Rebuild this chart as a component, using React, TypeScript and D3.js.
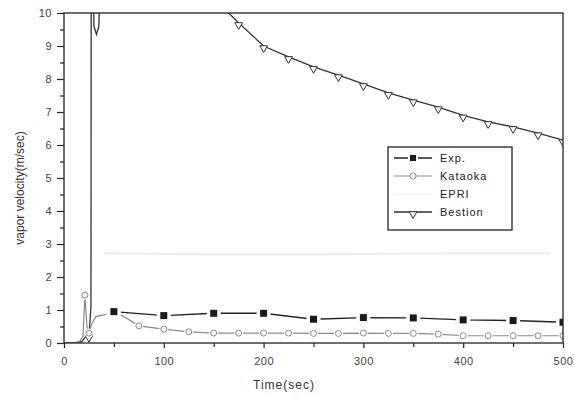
import React, { useEffect, useRef } from "react";
import * as d3 from "d3";

// values (time in sec, vapor velocity in m/sec)
const expTime = [50, 100, 150, 200, 250, 300, 350, 400, 450, 500];
const expVel = [0.95, 0.83, 0.9, 0.9, 0.72, 0.77, 0.76, 0.7, 0.68, 0.63];

const kataokaTime = [0, 10, 15, 19, 21, 23, 25, 28, 32, 40, 50, 60, 75, 100, 125, 150, 175, 200, 225, 250, 275, 300, 325, 350, 375, 400, 425, 450, 475, 500];
const kataokaVel = [0, 0, 0.02, 0.2, 1.45, 0.5, 0.3, 0.6, 0.8, 0.85, 0.95, 0.8, 0.52, 0.42, 0.34, 0.3, 0.3, 0.3, 0.3, 0.29, 0.29, 0.3, 0.29, 0.29, 0.27, 0.22, 0.22, 0.22, 0.22, 0.22];
const kataokaMarked = [21, 25, 75, 100, 125, 150, 175, 200, 225, 250, 275, 300, 325, 350, 375, 400, 425, 450, 475, 500];

const eprTime = [40, 100, 200, 300, 400, 487];
const eprVel = [2.72, 2.7, 2.68, 2.7, 2.72, 2.72];

const bestionTime = [0, 10, 18, 22, 25, 27, 27.3, 29, 30, 32.5, 35, 36, 100, 150, 165, 175, 200, 225, 250, 275, 300, 325, 350, 375, 400, 425, 450, 475, 500];
const bestionVel = [0, 0, 0.05, 0.2, 0.22, 1.1, 12, 12, 9.6, 9.35, 9.6, 12, 11.5, 10.5, 10.0, 9.7, 9.0, 8.67, 8.37, 8.12, 7.85, 7.58, 7.36, 7.15, 6.9, 6.7, 6.55, 6.36, 6.15];
const bestionMarked = [25, 175, 200, 225, 250, 275, 300, 325, 350, 375, 400, 425, 450, 475, 500];

const xTicks = [0, 100, 200, 300, 400, 500];
const yTicks = [0, 1, 2, 3, 4, 5, 6, 7, 8, 9, 10];
const legendNames = ["Exp.", "Kataoka", "EPRI", "Bestion"];

const W = 574, H = 396;
const left = 64, right = 563, top = 13, bottom = 343;
const font = "'Liberation Sans', Arial, sans-serif";

export default function App() {
  const ref = useRef<SVGSVGElement | null>(null);

  useEffect(() => {
    const svg = d3.select(ref.current);
    svg.selectAll("*").remove();

    const x = d3.scaleLinear().domain([0, 500]).range([left, right]);
    const y = d3.scaleLinear().domain([0, 10]).range([bottom, top]);

    svg.append("defs").append("clipPath").attr("id", "plotclip")
      .append("rect").attr("x", left).attr("y", top).attr("width", right - left).attr("height", bottom - top);

    const plot = svg.append("g").attr("clip-path", "url(#plotclip)");
    const line = d3.line<[number, number]>().x(d => x(d[0])).y(d => y(d[1]));
    const zip = (t: number[], v: number[]) => t.map((tt, i) => [tt, v[i]] as [number, number]);

    // EPRI: very faint line
    plot.append("path").attr("d", line(zip(eprTime, eprVel))).attr("fill", "none")
      .attr("stroke", "#f0f0f0").attr("stroke-width", 2.5);

    // Bestion
    const bes = zip(bestionTime, bestionVel);
    plot.append("path").attr("d", line(bes)).attr("fill", "none").attr("stroke", "#333").attr("stroke-width", 1.3);
    const tri = d3.symbol().type(d3.symbolTriangle).size(26);
    plot.selectAll(".bm").data(bes.filter(d => bestionMarked.includes(d[0]))).enter().append("path")
      .attr("d", tri).attr("transform", d => `translate(${x(d[0])},${y(d[1]) + 2}) rotate(180)`)
      .attr("fill", "white").attr("stroke", "#333").attr("stroke-width", 1);

    // Kataoka
    const kat = zip(kataokaTime, kataokaVel);
    plot.append("path").attr("d", line(kat)).attr("fill", "none").attr("stroke", "#8a8a8a").attr("stroke-width", 1.2);
    const km = kat.filter(d => kataokaMarked.includes(d[0]));
    plot.selectAll(".kh").data(km).enter().append("circle")
      .attr("cx", d => x(d[0])).attr("cy", d => y(d[1])).attr("r", 4.5).attr("fill", "white");
    plot.selectAll(".km").data(km).enter().append("circle")
      .attr("cx", d => x(d[0])).attr("cy", d => y(d[1])).attr("r", 3)
      .attr("fill", "white").attr("stroke", "#8a8a8a").attr("stroke-width", 1);

    // Exp
    const exp = zip(expTime, expVel);
    plot.append("path").attr("d", line(exp)).attr("fill", "none").attr("stroke", "#222").attr("stroke-width", 1.4);
    plot.selectAll(".eh").data(exp).enter().append("rect")
      .attr("x", d => x(d[0]) - 7).attr("y", d => y(d[1]) - 4).attr("width", 14).attr("height", 8).attr("fill", "white");
    plot.selectAll(".em").data(exp).enter().append("rect")
      .attr("x", d => x(d[0]) - 3.5).attr("y", d => y(d[1]) - 3.5).attr("width", 7).attr("height", 7).attr("fill", "#1a1a1a");

    // frame
    svg.append("rect").attr("x", left).attr("y", top).attr("width", right - left).attr("height", bottom - top)
      .attr("fill", "none").attr("stroke", "#222").attr("stroke-width", 1.3);

    // axes
    const xAxis = d3.axisBottom(x).tickValues(xTicks).tickSize(5).tickPadding(7).tickFormat(d3.format("d"));
    const gx = svg.append("g").attr("transform", `translate(0,${bottom})`).call(xAxis);
    const xMinor = d3.axisBottom(x).tickValues([50, 150, 250, 350, 450]).tickSize(4).tickFormat(() => "");
    svg.append("g").attr("transform", `translate(0,${bottom})`).call(xMinor);

    const yAxis = d3.axisLeft(y).tickValues(yTicks).tickSize(7).tickPadding(5).tickFormat(d3.format("d"));
    svg.append("g").attr("transform", `translate(${left},0)`).call(yAxis);
    const yMinor = d3.axisLeft(y).tickValues(d3.range(0.5, 10, 1)).tickSize(4).tickFormat(() => "");
    svg.append("g").attr("transform", `translate(${left},0)`).call(yMinor);

    svg.selectAll(".domain").remove();
    svg.selectAll(".tick line").attr("stroke", "#222").attr("stroke-width", 1.2);
    svg.selectAll(".tick text").attr("font-family", font).attr("font-size", 11).attr("fill", "#444")
      .attr("letter-spacing", 0.5);
    gx.selectAll(".tick text").attr("dy", "0.9em");

    // axis titles
    svg.append("text").attr("x", 284).attr("y", 389).attr("text-anchor", "middle")
      .attr("font-family", font).attr("font-size", 12).attr("letter-spacing", 1).attr("fill", "#333").text("Time(sec)");
    svg.append("text").attr("transform", "translate(24,188) rotate(-90)").attr("text-anchor", "middle")
      .attr("font-family", font).attr("font-size", 12).attr("fill", "#333").text("vapor velocity(m/sec)");

    // legend
    const lg = svg.append("g");
    lg.append("rect").attr("x", 388).attr("y", 147).attr("width", 124).attr("height", 83)
      .attr("fill", "white").attr("stroke", "#222").attr("stroke-width", 1.3);
    const rowY = [158, 176, 194, 212];
    legendNames.forEach((name, i) => {
      const cy = rowY[i];
      if (i === 0) {
        lg.append("line").attr("x1", 394).attr("x2", 432).attr("y1", cy).attr("y2", cy).attr("stroke", "#222").attr("stroke-width", 1.4);
        lg.append("rect").attr("x", 408).attr("y", cy - 4).attr("width", 10).attr("height", 8).attr("fill", "white");
        lg.append("rect").attr("x", 410).attr("y", cy - 3).attr("width", 6).attr("height", 6).attr("fill", "#1a1a1a");
      } else if (i === 1) {
        lg.append("line").attr("x1", 394).attr("x2", 432).attr("y1", cy).attr("y2", cy).attr("stroke", "#8a8a8a").attr("stroke-width", 1.2);
        lg.append("circle").attr("cx", 413).attr("cy", cy).attr("r", 3).attr("fill", "white").attr("stroke", "#8a8a8a");
      } else if (i === 2) {
        lg.append("line").attr("x1", 394).attr("x2", 432).attr("y1", cy).attr("y2", cy).attr("stroke", "#f4f4f4").attr("stroke-width", 1.5);
      } else {
        lg.append("line").attr("x1", 394).attr("x2", 432).attr("y1", cy).attr("y2", cy).attr("stroke", "#333").attr("stroke-width", 1.3);
        lg.append("path").attr("d", tri).attr("transform", `translate(413,${cy + 2}) rotate(180)`)
          .attr("fill", "white").attr("stroke", "#333");
      }
      lg.append("text").attr("x", 440).attr("y", cy + 4).attr("font-family", font).attr("font-size", 11)
        .attr("letter-spacing", 1).attr("fill", "#222").text(name);
    });
  }, []);

  return (
    <svg ref={ref} width={W} height={H} style={{ position: "absolute", left: 0, top: 0, background: "white" }} />
  );
}
